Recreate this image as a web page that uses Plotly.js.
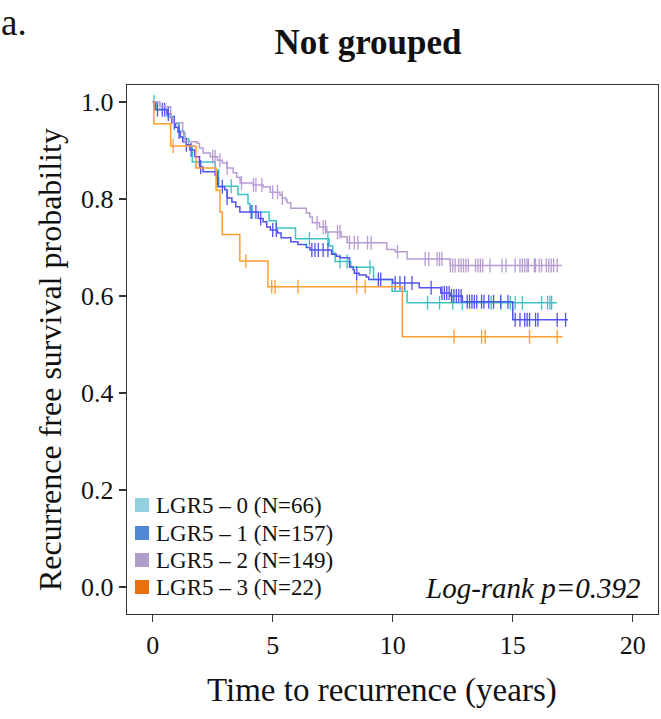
<!DOCTYPE html>
<html>
<head>
<meta charset="utf-8">
<script src="https://cdn.plot.ly/plotly-3.0.1.min.js"></script>
<style>html,body{margin:0;padding:0;background:#fff;}#chart{width:661px;height:719px;}</style>
</head>
<body>
<div id="chart"></div>
<script>
// ---- Data ----
const groupNames = ["LGR5 \u2013 0 (N=66)", "LGR5 \u2013 1 (N=157)", "LGR5 \u2013 2 (N=149)", "LGR5 \u2013 3 (N=22)"];

// LGR5 - 0
const times0 = [0, 0.15, 0.6, 0.9, 1.1, 1.3, 1.5, 1.65, 2.6, 2.75, 3.55, 3.97, 4.05, 4.85, 5.15, 5.95, 7.35, 7.5, 7.6, 8.25, 9.2, 9.97, 10.6];
const surv0  = [1.0, 0.985, 0.97, 0.955, 0.94, 0.924, 0.909, 0.876, 0.86, 0.826, 0.809, 0.79, 0.773, 0.755, 0.74, 0.718, 0.703, 0.688, 0.671, 0.659, 0.634, 0.61, 0.586];
const cens0  = [0.05, 3.27, 4.15, 6.53, 7.3, 7.8, 8.1, 9.05, 11.45, 11.95, 12.5, 12.9, 14.1, 14.5, 14.9, 15.1, 15.4, 16.2, 16.45, 16.55, 16.62];
const end0 = 16.85;

// LGR5 - 1
const times1 = [0, 0.1, 0.6, 0.75, 0.8, 0.95, 1.05, 1.15, 1.25, 1.4, 1.55, 1.75, 1.95, 2.1, 2.6, 2.68, 2.72, 3.0, 3.1, 3.3, 3.46, 3.63, 4.4, 4.6, 4.75, 4.9, 5.2, 5.35, 5.75, 6.05, 6.4, 6.55, 7.45, 7.65, 7.8, 8.2, 8.35, 8.4, 8.6, 8.9, 9.0, 10.0, 11.1, 12.0, 12.4, 12.9, 15.0];
const surv1  = [1.0, 0.984, 0.975, 0.967, 0.957, 0.948, 0.938, 0.928, 0.918, 0.912, 0.901, 0.887, 0.866, 0.856, 0.849, 0.843, 0.825, 0.819, 0.802, 0.794, 0.784, 0.773, 0.76, 0.753, 0.742, 0.736, 0.73, 0.72, 0.712, 0.706, 0.7, 0.695, 0.686, 0.682, 0.679, 0.66, 0.654, 0.647, 0.643, 0.639, 0.634, 0.627, 0.617, 0.606, 0.6, 0.588, 0.551];
const cens1  = [0.2, 0.4, 0.5, 0.65, 0.9, 1.1, 1.4, 1.6, 2.0, 2.7, 2.9, 3.1, 4.1, 4.3, 4.5, 5.0, 5.15, 6.63, 6.76, 6.9, 7.1, 7.3, 8.5, 9.4, 9.5, 10.1, 10.3, 10.5, 10.8, 11.6, 12.05, 12.15, 12.25, 12.35, 12.45, 12.55, 12.65, 12.75, 12.85, 13.1, 13.2, 13.3, 13.4, 13.5, 13.7, 13.8, 14.0, 14.2, 14.5, 14.8, 15.1, 15.3, 15.5, 15.6, 15.7, 15.95, 16.05, 16.85, 17.2];
const end1 = 17.3;

// LGR5 - 2
const times2 = [0, 0.3, 0.75, 0.85, 1.25, 1.35, 1.85, 1.95, 2.1, 2.4, 2.7, 2.9, 3.1, 3.35, 3.5, 3.64, 4.18, 4.6, 4.9, 5.3, 5.4, 5.55, 5.6, 5.75, 6.4, 6.55, 6.65, 6.95, 7.25, 7.85, 8.1, 9.75, 10.1, 10.6, 12.4];
const surv2  = [1.0, 0.99, 0.967, 0.957, 0.936, 0.918, 0.915, 0.905, 0.895, 0.887, 0.88, 0.874, 0.864, 0.854, 0.845, 0.833, 0.829, 0.825, 0.814, 0.808, 0.802, 0.798, 0.792, 0.781, 0.771, 0.763, 0.751, 0.742, 0.732, 0.722, 0.71, 0.696, 0.691, 0.676, 0.663];
const cens2  = [2.5, 2.6, 2.8, 3.1, 3.7, 4.2, 4.3, 4.55, 5.0, 5.2, 5.4, 6.85, 7.1, 7.2, 7.7, 7.8, 8.2, 8.4, 8.55, 8.95, 9.1, 10.2, 11.35, 11.5, 11.85, 11.95, 12.05, 12.4, 12.5, 12.6, 12.75, 12.85, 12.95, 13.05, 13.15, 13.45, 13.55, 13.65, 13.75, 14.05, 14.55, 14.72, 15.1, 15.3, 15.4, 15.5, 15.6, 15.65, 15.9, 15.95, 16.1, 16.2, 16.4, 16.5, 16.6, 16.7, 16.85];
const end2 = 17.05;

// LGR5 - 3
const times3 = [0, 0.05, 0.75, 1.8, 2.64, 2.8, 2.9, 3.63, 4.8, 10.4];
const surv3  = [1.0, 0.955, 0.909, 0.864, 0.818, 0.773, 0.727, 0.672, 0.619, 0.516];
const cens3  = [0.85, 3.88, 4.96, 5.1, 6.05, 8.5, 8.85, 12.55, 13.7, 13.85, 15.7, 16.85];
const end3 = 17.07;

const lineColors   = ["#3ec3c3", "#5252ee", "#b79bd3", "#ff9d2e"];
const legendColors = ["#93d0df", "#4f87d5", "#b09dc9", "#e8700f"];

const pValueText = "Log-rank p=0.392";
const xTitle = "Time to recurrence (years)";
const yTitle = "Recurrence free survival probability";
const xTicks = [0, 5, 10, 15, 20];
const yTicks = [0.0, 0.2, 0.4, 0.6, 0.8, 1.0];

// ---- Build traces ----
const series = [
  {t: times0, s: surv0, c: cens0, e: end0},
  {t: times1, s: surv1, c: cens1, e: end1},
  {t: times2, s: surv2, c: cens2, e: end2},
  {t: times3, s: surv3, c: cens3, e: end3}
];
function survAt(t, s, x) { let v = s[0]; for (let i = 0; i < t.length; i++) { if (t[i] <= x) v = s[i]; } return v; }

const traces = [];
series.forEach((d, i) => {
  traces.push({
    x: d.t.concat([d.e]), y: d.s.concat([d.s[d.s.length - 1]]),
    type: 'scatter', mode: 'lines', line: {shape: 'hv', color: lineColors[i], width: 1.5},
    showlegend: false, hoverinfo: 'skip'
  });
  traces.push({
    x: d.c, y: d.c.map(x => survAt(d.t, d.s, x)),
    type: 'scatter', mode: 'markers',
    marker: {symbol: 'line-ns-open', size: 10, color: lineColors[i], line: {color: lineColors[i], width: 1.3}},
    showlegend: false, hoverinfo: 'skip'
  });
});

// ---- Layout ----
const W = 661, H = 719, ML = 127, MR = 3, MT = 85, MB = 105;
const PW = W - ML - MR, PH = H - MT - MB;
const px2x = p => (p - ML) / PW;
const py2y = p => (H - MB - p) / PH;

const serif = "Liberation Serif, Times New Roman, serif";
const shapes = [], annotations = [];
const rowY = [505, 533, 560, 587];
groupNames.forEach((name, i) => {
  shapes.push({type: 'rect', xref: 'paper', yref: 'paper',
    x0: px2x(135), x1: px2x(149), y0: py2y(rowY[i] + 7), y1: py2y(rowY[i] - 7),
    fillcolor: legendColors[i], line: {width: 0}});
  annotations.push({xref: 'paper', yref: 'paper', x: px2x(154), y: py2y(rowY[i]),
    xanchor: 'left', yanchor: 'middle', showarrow: false, text: name,
    font: {family: serif, size: 23, color: '#111'}});
});
annotations.push({xref: 'paper', yref: 'paper', x: px2x(643), y: py2y(588),
  xanchor: 'right', yanchor: 'middle', showarrow: false, text: '<i>' + pValueText + '</i>',
  font: {family: serif, size: 29, color: '#111'}});
annotations.push({xref: 'paper', yref: 'paper', x: px2x(-1), y: py2y(0),
  xanchor: 'left', yanchor: 'top', showarrow: false, text: 'a.',
  font: {family: serif, size: 37, color: '#111'}});
annotations.push({xref: 'paper', yref: 'paper', x: px2x(382), y: py2y(690),
  xanchor: 'center', yanchor: 'middle', showarrow: false, text: xTitle,
  font: {family: serif, size: 33, color: '#111'}});
annotations.push({xref: 'paper', yref: 'paper', x: px2x(50), y: py2y(360),
  xanchor: 'center', yanchor: 'middle', showarrow: false, text: yTitle, textangle: -90,
  font: {family: serif, size: 32, color: '#111'}});

const layout = {
  width: W, height: H,
  margin: {l: ML, r: MR, t: MT, b: MB},
  paper_bgcolor: '#fff', plot_bgcolor: '#fff',
  showlegend: false,
  title: {text: 'Not grouped', x: 368 / W, xanchor: 'center', xref: 'container',
          y: 1 - 42 / H, yanchor: 'middle', yref: 'container',
          font: {family: serif, size: 35, weight: 'bold', color: '#111'}},
  xaxis: {
    range: [-1.07, 21.05], tickvals: xTicks, ticktext: xTicks.map(String),
    showgrid: false, zeroline: false, showline: true, mirror: true,
    linecolor: '#333', linewidth: 1.4, ticks: 'outside', ticklen: 7, tickwidth: 1.4, tickcolor: '#333',
    tickfont: {family: serif, size: 26, color: '#111'},
    automargin: false
  },
  yaxis: {
    range: [-0.0557, 1.035], tickvals: yTicks, ticktext: yTicks.map(v => v.toFixed(1)),
    showgrid: false, zeroline: false, showline: true, mirror: true,
    linecolor: '#333', linewidth: 1.4, ticks: 'outside', ticklen: 7, tickwidth: 1.4, tickcolor: '#333',
    tickfont: {family: serif, size: 26, color: '#111'},
    automargin: false
  },
  shapes: shapes, annotations: annotations
};

Plotly.newPlot('chart', traces, layout, {displayModeBar: false, staticPlot: true});
</script>
</body>
</html>
